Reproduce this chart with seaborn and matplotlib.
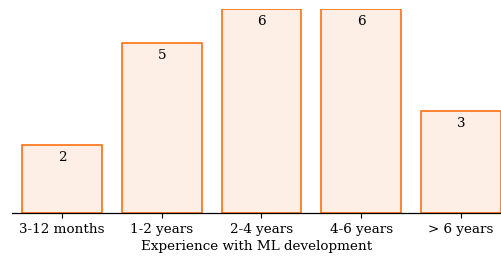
import matplotlib
matplotlib.use("Agg")
import matplotlib.pyplot as plt
import seaborn as sns
import pandas as pd

categories = ["3-12 months", "1-2 years", "2-4 years", "4-6 years", "> 6 years"]
counts = [2, 5, 6, 6, 3]

sns.set_style("white")
plt.rcParams['font.family'] = ['DejaVu Serif']
plt.rcParams['text.color'] = 'black'
plt.rcParams['axes.labelcolor'] = 'black'
plt.rcParams['xtick.color'] = 'black'
plt.rcParams['xtick.bottom'] = True
plt.rcParams['xtick.major.size'] = 3.5
plt.rcParams['xtick.major.width'] = 0.8
plt.rcParams['xtick.direction'] = 'out'

df = pd.DataFrame({"cat": categories, "n": counts})
fig = plt.figure(figsize=(5.02, 2.56), dpi=100)
ax = fig.add_axes([12/502, 43/256, 490/502, 204/256])
sns.barplot(data=df, x="cat", y="n", ax=ax, color="#fdeee6", edgecolor="#ff6600",
            linewidth=1.1, width=0.8, saturation=1)
ax.set_xlim(-0.5, 4.41)
ax.set_ylim(0, 6)
for i, v in enumerate(counts):
    ax.annotate(str(v), (i, v), xytext=(0, -9), textcoords="offset points",
                ha="center", va="center", fontsize=9.7, color="black")
for s in ["left", "right", "top"]:
    ax.spines[s].set_visible(False)
ax.spines["bottom"].set_color("black")
ax.spines["bottom"].set_linewidth(0.9)
ax.spines["bottom"].set_zorder(5)
ax.set_yticks([])
ax.set_xticks(range(len(categories)))
ax.set_xticklabels(categories)
ax.tick_params(axis="x", which="major", bottom=True, length=3.5, width=0.8, colors="black",
               labelsize=9.7, pad=3.5)
ax.set_xlabel("Experience with ML development", fontsize=9.7, labelpad=3)
ax.set_ylabel("")
fig.savefig("out.png", dpi=100)
